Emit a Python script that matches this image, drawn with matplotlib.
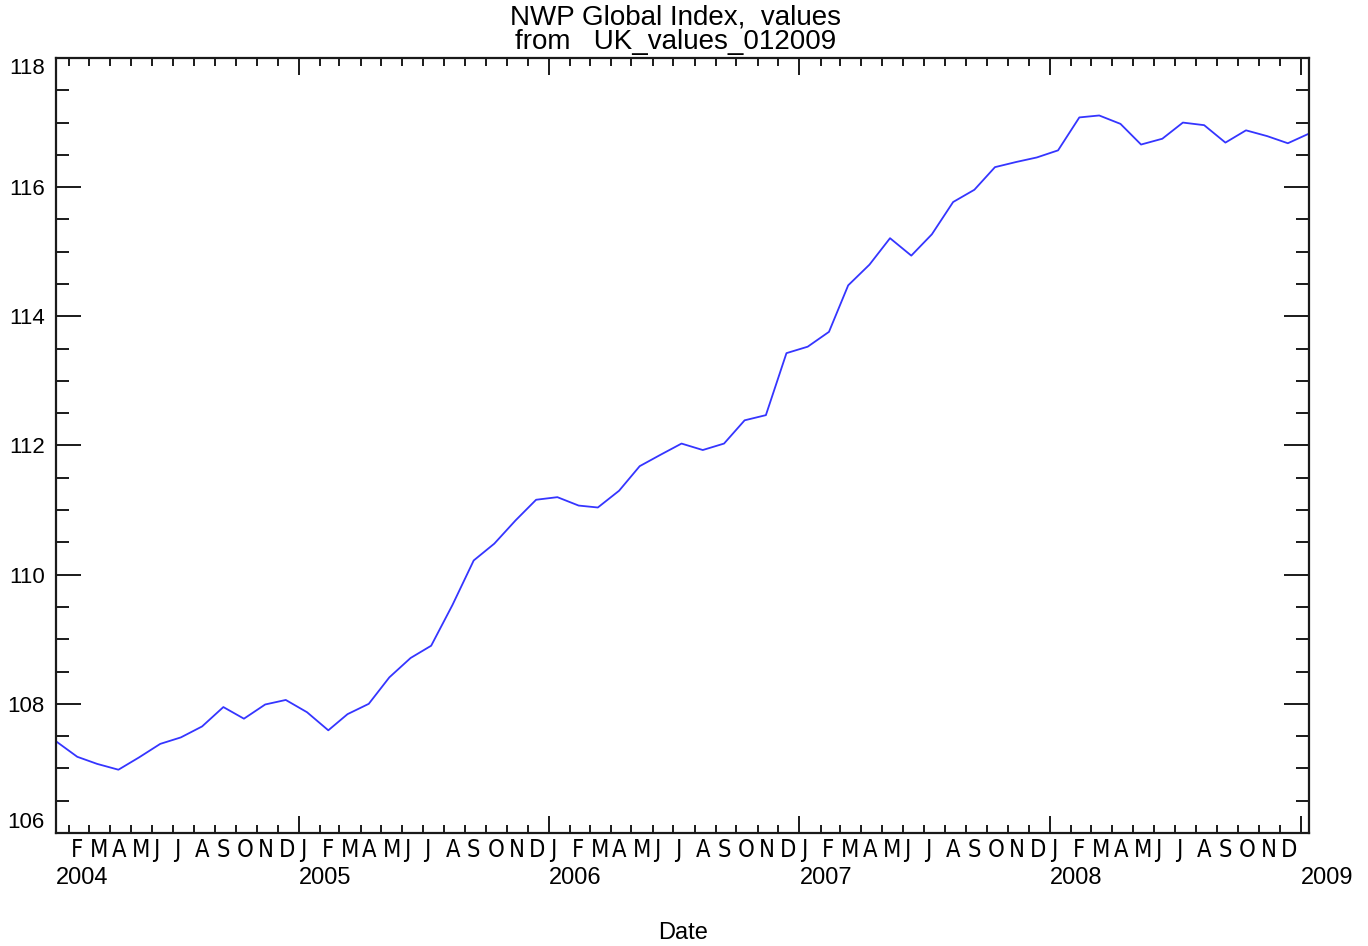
import matplotlib
matplotlib.use("Agg")
import matplotlib.pyplot as plt
import matplotlib.dates as mdates
import matplotlib.transforms as mtransforms
from matplotlib import font_manager
from matplotlib.font_manager import FontProperties
import pandas as pd
import numpy as np

# Monthly index values, Jan 2004 .. Jan 2009
dates = pd.date_range("2004-01-13", periods=61, freq=pd.DateOffset(months=1))
index_values = [
    107.42, 107.18, 107.07, 106.98, 107.17, 107.38, 107.48, 107.65, 107.95, 107.77,
    107.99, 108.06, 107.87, 107.59, 107.84, 108.00, 108.41, 108.71, 108.90, 109.53,
    110.22, 110.48, 110.84, 111.16, 111.20, 111.07, 111.04, 111.30, 111.68, 111.86,
    112.03, 111.93, 112.03, 112.39, 112.47, 113.43, 113.53, 113.76, 114.48, 114.80,
    115.21, 114.94, 115.27, 115.77, 115.96, 116.31, 116.39, 116.46, 116.57, 117.08,
    117.11, 116.98, 116.66, 116.75, 117.00, 116.96, 116.69, 116.88, 116.79, 116.68,
    116.83,
]
month_letters = ["J", "F", "M", "A", "M", "J", "J", "A", "S", "O", "N", "D"]
year_labels = ["2004", "2005", "2006", "2007", "2008", "2009"]
y_ticks = [106, 108, 110, 112, 114, 116, 118]

title_lines = ["NWP Global Index,  values", "from   UK_values_012009"]
x_title = "Date"

FONT = "Liberation Sans"
FS = 17
INK = "#1a1a1a"

# a narrow sans face for the month letters, if one is available
narrow_file = None
for f in font_manager.fontManager.ttflist:
    nm = f.name.lower()
    fn = f.fname.lower()
    if ("narrow" in nm or "condensed" in fn or "narrow" in fn) and "bold" not in fn \
            and "oblique" not in fn and "italic" not in fn and "mono" not in fn \
            and "serif" not in nm:
        narrow_file = f.fname
        break
if narrow_file:
    month_font = FontProperties(fname=narrow_file, size=FS)
else:
    month_font = FontProperties(family=FONT, size=15)

fig = plt.figure(figsize=(13.68, 9.46), dpi=100)
ax = fig.add_axes([0.04094, 0.11945, 0.9160, 0.81924])

xd = mdates.date2num(dates.to_pydatetime())
ax.plot(xd, index_values, color="#3535ff", lw=1.3, solid_joinstyle="round")

ax.set_xlim(xd[0], xd[-1])
ax.set_ylim(106, 118)

# month ticks (minor) and year ticks (major)
month_starts = pd.date_range("2004-02-01", "2009-01-01", freq="MS")
year_starts = pd.date_range("2005-01-01", "2009-01-01", freq="YS")
ax.set_xticks(mdates.date2num(year_starts.to_pydatetime()))
ax.set_xticks(mdates.date2num(month_starts.to_pydatetime()), minor=True)
ax.set_xticklabels([])
ax.tick_params(axis="x", which="major", direction="in", length=12.2, width=1.4,
               top=True, bottom=True, colors=INK, labelbottom=False)
ax.tick_params(axis="x", which="minor", direction="in", length=5.8, width=1.4,
               top=True, bottom=True, colors=INK, labelbottom=False)

ax.set_yticks(y_ticks)
ax.set_yticks(np.arange(106, 118.01, 0.5), minor=True)
ax.tick_params(axis="y", which="major", direction="in", length=18, width=1.4,
               left=True, right=True, colors=INK, pad=8)
ax.tick_params(axis="y", which="minor", direction="in", length=9.4, width=1.4,
               left=True, right=True, colors=INK)
ax.set_yticklabels([str(v) for v in y_ticks], fontfamily=FONT, fontsize=16, color="black")
yt = ax.yaxis.get_major_ticks()
yt[0].label1.set_verticalalignment("bottom")
yt[-1].label1.set_verticalalignment("top")

for sp in ax.spines.values():
    sp.set_linewidth(1.6)
    sp.set_color(INK)

trans = mtransforms.blended_transform_factory(ax.transData, ax.transAxes)

# month letters under each month tick
for d in month_starts[:-1]:
    ax.text(mdates.date2num(d.to_pydatetime()) + 2, -0.0219, month_letters[d.month - 1],
            transform=trans, ha="left", va="center", fontproperties=month_font)

# year labels
year_pos = [xd[0]] + list(mdates.date2num(year_starts.to_pydatetime()))
for xp, lab in zip(year_pos, year_labels):
    ax.text(xp, -0.058, lab, transform=trans, ha="left", va="center",
            fontfamily=FONT, fontsize=FS)

ax.text(0.5005, -0.129, x_title, transform=ax.transAxes, ha="center", va="center",
        fontfamily=FONT, fontsize=FS)

fig.text(0.494, 0.981, title_lines[0], ha="center", va="center", fontfamily=FONT, fontsize=20)
fig.text(0.494, 0.9556, title_lines[1], ha="center", va="center", fontfamily=FONT, fontsize=20)

fig.savefig("out.png", dpi=100)
